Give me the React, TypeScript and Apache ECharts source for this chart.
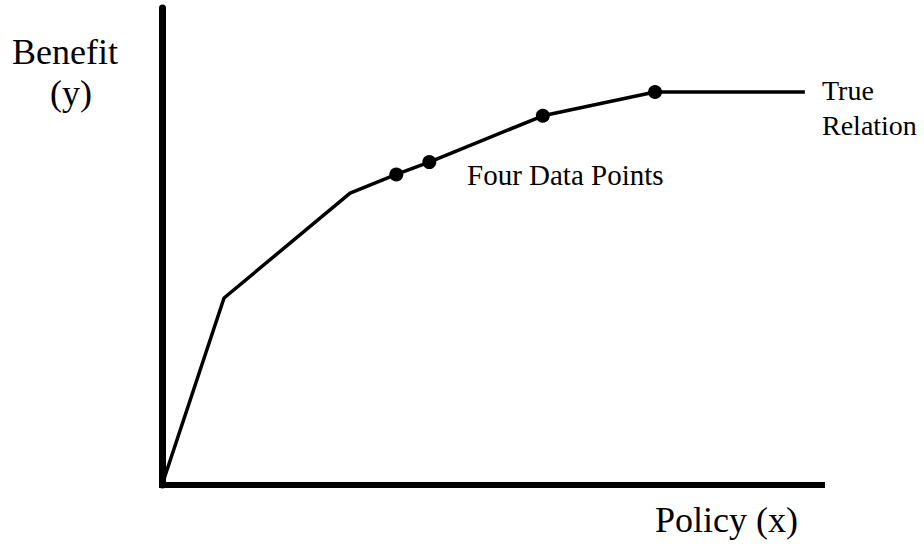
import React, { useEffect, useRef } from "react";
import * as echarts from "echarts";

// True relation (policy x, benefit y), arbitrary units 0..100
const relationX = [0, 9.4, 28.5, 35.5, 40.5, 57.7, 74.7, 97.4];
const relationY = [0, 39.2, 61.2, 65.1, 67.7, 77.4, 82.4, 82.4];

// The four observed data points
const pointsX = [35.5, 40.5, 57.7, 74.7];
const pointsY = [65.1, 67.7, 77.4, 82.4];

const yAxisLabel = ["Benefit", "(y)"];
const xAxisLabel = "Policy (x)";
const relationLabel = "True\nRelation";
const pointsLabel = "Four Data Points";

const FONT = '"Liberation Serif", "Times New Roman", Times, serif';

export default function App() {
  const ref = useRef<HTMLDivElement>(null);

  useEffect(() => {
    if (!ref.current) return;
    const chart = echarts.init(ref.current, undefined, { renderer: "svg" });
    const textEl = (text: string, x: number, y: number, size: number, lineHeight?: number) => ({
      type: "text",
      style: {
        text,
        x,
        y,
        font: `${size}px ${FONT}`,
        lineHeight: lineHeight ?? size,
        fill: "#000",
        align: "left",
        verticalAlign: "middle",
      },
    });
    chart.setOption({
      animation: false,
      backgroundColor: "#fff",
      grid: { left: 162, top: 8, right: 102, bottom: 63, containLabel: false },
      xAxis: {
        type: "value",
        min: 0,
        max: 100,
        axisLine: { show: true, onZero: false, lineStyle: { color: "#000", width: 6, cap: "square" } },
        axisTick: { show: false },
        axisLabel: { show: false },
        splitLine: { show: false },
      },
      yAxis: {
        type: "value",
        min: 0,
        max: 100,
        axisLine: { show: true, onZero: false, lineStyle: { color: "#000", width: 7 } },
        axisTick: { show: false },
        axisLabel: { show: false },
        splitLine: { show: false },
      },
      series: [
        {
          type: "line",
          data: relationX.map((x, i) => [x, relationY[i]]),
          showSymbol: false,
          symbol: "none",
          clip: false,
          lineStyle: { color: "#000", width: 3.5 },
          z: 3,
        },
        {
          type: "scatter",
          data: pointsX.map((x, i) => [x, pointsY[i]]),
          symbol: "circle",
          symbolSize: 14,
          itemStyle: { color: "#000", opacity: 1 },
          z: 4,
        },
      ],
      graphic: [
        textEl(yAxisLabel[0], 12, 52, 36),
        textEl(yAxisLabel[1], 50, 93, 36),
        textEl(xAxisLabel, 655, 520, 36),
        textEl(relationLabel, 822, 107.5, 28, 35),
        textEl(pointsLabel, 467, 175, 29),
      ],
    });
    return () => chart.dispose();
  }, []);

  return (
    <div
      ref={ref}
      style={{ position: "absolute", left: 0, top: 0, width: 924, height: 548 }}
    />
  );
}
